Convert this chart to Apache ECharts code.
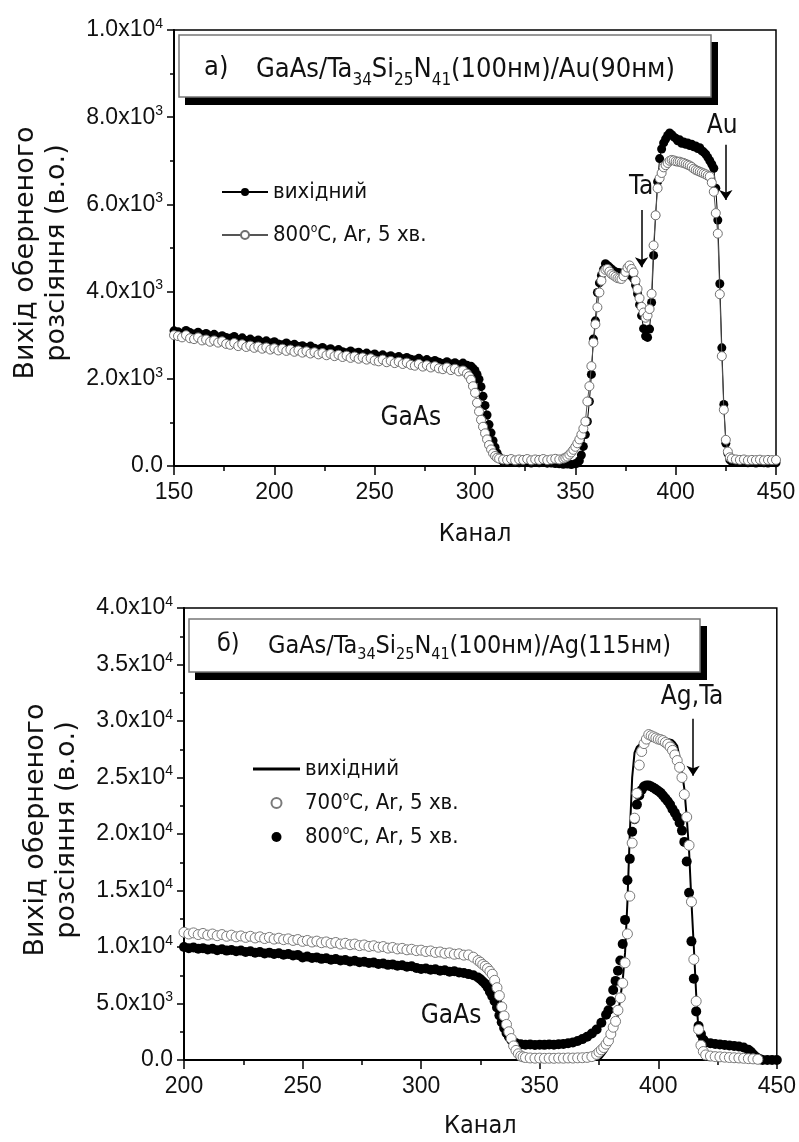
<!DOCTYPE html>
<html>
<head>
<meta charset="utf-8">
<script src="https://cdn.jsdelivr.net/npm/echarts@6/dist/echarts.min.js"></script>
<style>
  html, body { margin: 0; padding: 0; background: #fff; }
  #chart { width: 799px; height: 1142px; }
</style>
</head>
<body>
<div id="chart"></div>
<script>
// ---- data ----
// a) GaAs/Ta34Si25N41/Au : [channel, counts]
var topOrig = [
  [150,3100],[152,3080],[154,3040],[156,3110],[158,3060],[160,3030],[162,3070],[164,3010],[166,3040],[168,2990],
  [170,3020],[172,2960],[174,2990],[176,2950],[178,2930],[180,2970],[182,2900],[184,2940],[186,2880],[188,2910],
  [190,2860],[192,2890],[194,2840],[196,2870],[198,2820],[200,2850],[202,2800],[204,2780],[206,2820],[208,2770],
  [210,2790],[212,2740],[214,2760],[216,2720],[218,2750],[220,2700],[222,2680],[224,2720],[226,2660],[228,2690],
  [230,2640],[232,2670],[234,2620],[236,2600],[238,2640],[240,2590],[242,2610],[244,2560],[246,2590],[248,2540],
  [250,2570],[252,2520],[254,2550],[256,2500],[258,2530],[260,2480],[262,2510],[264,2460],[266,2490],[268,2450],
  [270,2430],[272,2470],[274,2410],[276,2440],[278,2390],[280,2420],[282,2380],[284,2350],[286,2390],[288,2340],
  [290,2370],[292,2320],[294,2360],[296,2310],[298,2290],[299,2240],[300,2190],[301,2100],[302,1990],[303,1820],
  [304,1600],[305,1390],[306,1170],[307,950],[308,760],[309,580],[310,430],[311,300],[312,210],[313,150],
  [314,110],[316,90],[318,80],[320,95],[322,75],[324,85],[326,90],[328,70],[330,85],[332,75],
  [334,80],[336,65],[338,70],[340,55],[342,50],[344,40],[346,45],[348,35],[350,50],[351,70],
  [352,120],[353,250],[354,450],[355,720],[356,1020],[357,1480],[358,2100],[359,2910],[360,3330],[361,3980],
  [362,4200],[363,4370],[364,4500],[365,4640],[366,4600],[367,4560],[368,4520],[369,4480],[370,4450],[371,4440],
  [372,4430],[373,4420],[374,4410],[375,4400],[376,4390],[377,4380],[378,4370],[379,4300],[380,4150],[381,3950],
  [382,3700],[383,3450],[384,3150],[385,2980],[386,2950],[387,3140],[388,3750],[389,4830],[390,5750],[391,6520],
  [392,7050],[393,7270],[394,7410],[395,7500],[396,7580],[397,7640],[398,7600],[399,7550],[400,7520],[401,7460],
  [402,7480],[403,7400],[404,7430],[405,7380],[406,7410],[407,7350],[408,7380],[409,7320],[410,7340],[411,7280],
  [412,7300],[413,7230],[414,7200],[415,7150],[416,7080],[417,7000],[418,6920],[419,6830],[420,6370],[421,5640],
  [422,4180],[423,2710],[424,1410],[425,520],[426,290],[427,140],[428,100],[430,90],[432,80],[434,85],
  [436,75],[438,80],[440,70],[442,80],[444,75],[446,70],[448,80],[450,75]
];
var top800 = [
  [150,3000],[152,2980],[154,2950],[156,3000],[158,2930],[160,2910],[162,2950],[164,2880],[166,2900],[168,2850],
  [170,2880],[172,2830],[174,2860],[176,2800],[178,2780],[180,2820],[182,2750],[184,2790],[186,2730],[188,2760],
  [190,2710],[192,2740],[194,2690],[196,2720],[198,2670],[200,2700],[202,2650],[204,2690],[206,2640],[208,2670],
  [210,2620],[212,2650],[214,2600],[216,2630],[218,2580],[220,2610],[222,2560],[224,2590],[226,2540],[228,2570],
  [230,2520],[232,2550],[234,2500],[236,2530],[238,2480],[240,2510],[242,2460],[244,2490],[246,2440],[248,2470],
  [250,2420],[252,2400],[254,2440],[256,2380],[258,2410],[260,2360],[262,2390],[264,2340],[266,2370],[268,2320],
  [270,2300],[272,2340],[274,2280],[276,2310],[278,2260],[280,2290],[282,2240],[284,2220],[286,2260],[288,2200],
  [290,2230],[292,2170],[294,2190],[296,2120],[297,2060],[298,1980],[299,1830],[300,1680],[301,1450],[302,1250],
  [303,1060],[304,900],[305,750],[306,610],[307,480],[308,380],[309,290],[310,230],[311,190],[312,170],
  [314,150],[316,140],[318,160],[320,130],[322,150],[324,140],[326,160],[328,130],[330,150],[332,140],
  [334,160],[336,135],[338,150],[340,165],[342,150],[344,170],[345,190],[346,215],[347,260],[348,310],
  [349,370],[350,440],[351,520],[352,610],[353,720],[354,860],[355,1020],[356,1480],[357,1830],[358,2290],
  [359,2830],[360,3250],[361,3640],[362,3980],[363,4250],[364,4440],[365,4500],[366,4520],[367,4460],[368,4400],
  [369,4370],[370,4340],[371,4310],[372,4300],[373,4290],[374,4350],[375,4450],[376,4550],[377,4600],[378,4520],
  [379,4440],[380,4250],[381,4060],[382,3850],[383,3650],[384,3520],[385,3400],[386,3450],[387,3600],[388,3950],
  [389,5060],[390,5750],[391,6370],[392,6600],[393,6720],[394,6850],[395,6900],[396,6950],[397,7000],[398,7020],
  [399,7010],[400,6990],[401,6980],[402,6980],[403,6960],[404,6950],[405,6930],[406,6910],[407,6890],[408,6860],
  [409,6820],[410,6790],[411,6770],[412,6750],[413,6730],[414,6710],[415,6690],[416,6660],[417,6640],[418,6500],
  [419,6290],[420,5800],[421,5330],[422,3940],[423,2520],[424,1290],[425,600],[426,330],[427,200],[428,170],
  [430,150],[432,140],[434,150],[436,130],[438,140],[440,135],[442,145],[444,130],[446,140],[448,135],[450,140]
];

// б) GaAs/Ta34Si25N41/Ag : [channel, counts]
var botOrig = [
  [200,11100],[205,11000],[210,10950],[215,10900],[220,10850],[225,10750],[230,10700],[235,10650],[240,10600],
  [245,10500],[250,10400],[255,10350],[260,10300],[265,10200],[270,10150],[275,10050],[280,10000],[285,9900],
  [290,9850],[295,9750],[300,9650],[305,9550],[310,9450],[315,9350],[320,9250],[323,9050],[325,8700],[327,8200],
  [329,7600],[331,6800],[333,5700],[335,4200],[337,2600],[339,1300],[341,500],[343,150],[345,50],[350,20],
  [360,10],[370,10],[375,10],[376,200],[377,450],[378,740],[379,1100],[380,1600],[381,2230],[382,3000],
  [383,4020],[384,5500],[385,7000],[386,9500],[387,14000],[388,20000],[389,25000],[390,27200],[391,27700],
  [392,27900],[394,28100],[396,28200],[398,28300],[400,28400],[402,28400],[404,28400],[406,28300],[407,28100],
  [408,27800],[409,26800],[410,25500],[411,24000],[412,21500],[413,18500],[414,14000],[415,10000],[416,5800],
  [417,2500],[418,900],[419,300],[420,100],[421,0],[430,0],[440,0],[450,0]
];
var bot700 = [
  [200,11300],[202,11150],[204,11250],[206,11100],[208,11200],[210,11050],[212,11150],[214,11000],[216,11100],
  [218,10950],[220,11050],[222,10900],[224,10980],[226,10850],[228,10950],[230,10800],[232,10900],[234,10750],
  [236,10850],[238,10700],[240,10780],[242,10650],[244,10720],[246,10580],[248,10660],[250,10500],[252,10580],
  [254,10440],[256,10520],[258,10380],[260,10450],[262,10320],[264,10400],[266,10260],[268,10330],[270,10200],
  [272,10260],[274,10120],[276,10180],[278,10050],[280,10110],[282,9980],[284,10040],[286,9900],[288,9960],
  [290,9830],[292,9880],[294,9750],[296,9800],[298,9680],[300,9720],[302,9600],[304,9650],[306,9520],[308,9560],
  [310,9440],[312,9480],[314,9360],[316,9400],[318,9280],[320,9300],[322,9100],[324,8800],[325,8650],[326,8450],
  [327,8300],[328,8100],[329,7850],[330,7590],[331,7050],[332,6400],[333,5700],[334,4700],[335,3900],[336,3150],
  [337,2500],[338,1900],[339,1250],[340,850],[341,550],[342,350],[343,280],[344,220],[346,180],[348,160],
  [350,170],[352,150],[354,160],[356,150],[358,170],[360,160],[362,180],[364,170],[366,190],[368,200],
  [370,230],[372,300],[374,500],[375,700],[376,900],[377,1100],[378,1400],[379,1700],[380,2300],[381,2900],
  [382,3420],[383,4400],[384,5500],[385,6800],[386,8600],[387,11160],[388,14500],[389,19200],[390,21400],
  [391,23600],[392,26100],[393,27300],[394,28000],[395,28400],[396,28800],[397,28700],[398,28600],[399,28500],
  [400,28400],[401,28350],[402,28270],[403,28100],[404,27950],[405,27700],[406,27400],[407,27000],[408,26500],
  [409,25900],[410,25000],[411,23500],[412,21500],[413,19000],[414,14000],[415,8900],[416,5200],[417,2700],
  [418,1300],[419,750],[420,450],[422,350],[424,300],[426,280],[428,250],[430,220],[432,200],[434,180],
  [436,150],[438,120],[440,100],[442,60]
];
var bot800 = [
  [200,10000],[202,9900],[204,9950],[206,9850],[208,9900],[210,9780],[212,9850],[214,9720],[216,9800],
  [218,9680],[220,9740],[222,9620],[224,9680],[226,9560],[228,9620],[230,9500],[232,9560],[234,9430],
  [236,9500],[238,9380],[240,9440],[242,9320],[244,9380],[246,9250],[248,9300],[250,9080],[252,9150],
  [254,9020],[256,9080],[258,8950],[260,9000],[262,8880],[264,8930],[266,8800],[268,8850],[270,8720],
  [272,8780],[274,8650],[276,8700],[278,8580],[280,8620],[282,8500],[284,8540],[286,8420],[288,8460],
  [290,8340],[292,8380],[294,8250],[296,8290],[298,8150],[300,8050],[302,8100],[304,7980],[306,8020],
  [308,7900],[310,7940],[312,7820],[314,7860],[316,7740],[318,7700],[320,7600],[322,7500],[324,7300],
  [325,7140],[326,6950],[327,6750],[328,6450],[329,6050],[330,5650],[331,5200],[332,4650],[333,3950],
  [334,3350],[335,2830],[336,2400],[337,2050],[338,1780],[339,1600],[340,1490],[342,1400],[344,1350],
  [346,1370],[348,1330],[350,1360],[352,1340],[354,1380],[356,1350],[358,1400],[360,1420],[362,1480],
  [364,1550],[366,1680],[368,1850],[370,2050],[372,2350],[374,2700],[376,3300],[378,4000],[379,4400],
  [380,5200],[381,6200],[382,7000],[383,7900],[384,8800],[385,10270],[386,12400],[387,15900],[388,17800],
  [389,20200],[390,21300],[391,22600],[392,23400],[393,23900],[394,24200],[395,24300],[396,24300],[397,24200],
  [398,24100],[399,23950],[400,23800],[401,23650],[402,23400],[403,23150],[404,22900],[405,22600],[406,22200],
  [407,21870],[408,21500],[409,21000],[410,20300],[411,19300],[412,17560],[413,14800],[414,10500],[415,7200],
  [416,4300],[417,3000],[418,2300],[419,1800],[420,1550],[422,1480],[424,1420],[426,1380],[428,1330],
  [430,1280],[432,1250],[434,1200],[436,1100],[438,900],[439,740],[440,500],[441,300],[442,150],[443,60],
  [444,0],[446,0],[448,0],[450,0]
];

// annotations in data coordinates: [text, channel, counts]
var topNotes = [['GaAs', 268, 1100], ['Ta', 382.8, 6400], ['Au', 423.2, 7800]];
var topArrows = [[383, 5870, 4560], [425, 7370, 6100]];
var botNotes = [['GaAs', 312.6, 3890], ['Ag,Ta', 414.3, 32100]];
var botArrows = [[414.7, 30200, 25150]];

var legendText = {
  a0: 'вихідний',
  a1: '800{sup|o}C, Ar, 5 хв.',
  b0: 'вихідний',
  b1: '700{sup|o}C, Ar, 5 хв.',
  b2: '800{sup|o}C, Ar, 5 хв.'
};

var FONT_C = '"DejaVu Sans Condensed", "DejaVu Sans", sans-serif';
var FONT_T = '"Liberation Sans", Arial, sans-serif';

var chartDom = document.getElementById('chart');
var myChart = echarts.init(chartDom);

function sciLabel(v) {
  if (v === 0) return '{m|0.0}';
  var e = Math.floor(Math.log10(v) + 1e-9);
  var m = (v / Math.pow(10, e)).toFixed(1);
  return '{m|' + m + 'x10}{e|' + e + '}';
}

function makeX(idx, min, max, top) {
  return {
    type: 'value', gridIndex: idx, min: min, max: max, interval: 50,
    name: 'Канал', nameLocation: 'middle', nameGap: top ? 56 : 54,
    nameTextStyle: { fontFamily: FONT_C, fontSize: 25, color: '#111' },
    axisLine: { onZero: false, lineStyle: { color: '#000', width: 2 } },
    axisTick: { length: 9, lineStyle: { color: '#000', width: 1.5 } },
    minorTick: { show: true, splitNumber: 2, length: 5, lineStyle: { color: '#000', width: 1.5 } },
    splitLine: { show: false },
    axisLabel: { margin: 15, fontFamily: FONT_T, fontSize: 23, color: '#111' }
  };
}

function makeY(idx, max, interval) {
  return {
    type: 'value', gridIndex: idx, min: 0, max: max, interval: interval,
    axisLine: { onZero: false, lineStyle: { color: '#000', width: 2 } },
    axisTick: { length: 7, lineStyle: { color: '#000', width: 1.5 } },
    minorTick: { show: true, splitNumber: 2, length: 4, lineStyle: { color: '#000', width: 1.5 } },
    splitLine: { show: false },
    axisLabel: {
      margin: 11,
      formatter: sciLabel,
      rich: {
        m: { fontFamily: FONT_T, fontSize: 23, color: '#111', lineHeight: 26 },
        e: { fontFamily: FONT_T, fontSize: 14, color: '#111', lineHeight: 15, verticalAlign: 'top' }
      }
    }
  };
}

function notePoints(list) {
  return {
    silent: true, symbol: 'circle', symbolSize: 1,
    itemStyle: { color: 'rgba(0,0,0,0)' },
    data: list.map(function (n) {
      return {
        name: n[0], coord: [n[1], n[2]],
        label: { show: true, position: 'inside', formatter: n[0], fontFamily: FONT_C, fontSize: 26, color: '#111' }
      };
    })
  };
}

function arrowLines(list) {
  return {
    silent: true, symbol: ['none', 'arrow'], symbolSize: 10,
    label: { show: false },
    lineStyle: { color: '#000', width: 1.5, type: 'solid' },
    data: list.map(function (a) {
      return [{ coord: [a[0], a[1]] }, { coord: [a[0], a[2]] }];
    })
  };
}

var legendRich = { sup: { fontFamily: FONT_C, fontSize: 12, verticalAlign: 'top', lineHeight: 12, color: '#111' } };

option = {
  animation: false,
  backgroundColor: '#fff',
  grid: [
    { left: 174, top: 30, width: 602, height: 436, show: true, borderColor: '#000', borderWidth: 1.5 },
    { left: 184, top: 608, width: 595, height: 452, show: true, borderColor: '#000', borderWidth: 1.5 }
  ],
  xAxis: [makeX(0, 150, 450, true), makeX(1, 200, 450, false)],
  yAxis: [makeY(0, 10000, 2000), makeY(1, 40000, 5000)],
  legend: [
    {
      data: ['a0', 'a1'], orient: 'vertical', left: 216, top: 175,
      itemWidth: 46, itemHeight: 10, itemGap: 19, selectedMode: false,
      formatter: function (n) { return legendText[n]; },
      textStyle: { fontFamily: FONT_C, fontSize: 22, color: '#111', lineHeight: 24, rich: legendRich }
    },
    {
      data: [
        { name: 'b0', icon: 'path://M0,0 L47,0 L47,3 L0,3 Z', itemStyle: { color: '#000' } },
        'b1', 'b2'
      ],
      orient: 'vertical', left: 248, top: 752,
      itemWidth: 47, itemHeight: 10, itemGap: 10, selectedMode: false,
      formatter: function (n) { return legendText[n]; },
      textStyle: { fontFamily: FONT_C, fontSize: 22, color: '#111', lineHeight: 24, rich: legendRich }
    }
  ],
  series: [
    {
      name: 'a0', type: 'line', xAxisIndex: 0, yAxisIndex: 0, data: topOrig, z: 2,
      symbol: 'circle', symbolSize: 9, showAllSymbol: true,
      lineStyle: { color: '#000', width: 1 },
      itemStyle: { color: '#000' },
      markPoint: notePoints(topNotes),
      markLine: arrowLines(topArrows)
    },
    {
      name: 'a1', type: 'line', xAxisIndex: 0, yAxisIndex: 0, data: top800, z: 3,
      symbol: 'circle', symbolSize: 9, showAllSymbol: true,
      lineStyle: { color: '#555', width: 1 },
      itemStyle: { color: '#fff', borderColor: '#707070', borderWidth: 1 }
    },
    {
      name: 'b0', type: 'line', xAxisIndex: 1, yAxisIndex: 1, data: botOrig, z: 2,
      symbol: 'none', lineStyle: { color: '#000', width: 2 },
      itemStyle: { color: '#000' },
      markPoint: notePoints(botNotes),
      markLine: arrowLines(botArrows)
    },
    {
      name: 'b2', type: 'scatter', xAxisIndex: 1, yAxisIndex: 1, data: bot800, z: 3,
      symbol: 'circle', symbolSize: 10,
      itemStyle: { color: '#000', opacity: 1 }
    },
    {
      name: 'b1', type: 'scatter', xAxisIndex: 1, yAxisIndex: 1, data: bot700, z: 4,
      symbol: 'circle', symbolSize: 10,
      itemStyle: { color: '#fff', borderColor: '#7a7a7a', borderWidth: 1, opacity: 1 }
    }
  ],
  graphic: [
    // title box a)
    { type: 'rect', shape: { x: 185, y: 42, width: 533, height: 63 }, style: { fill: '#000' }, z: 10 },
    { type: 'rect', shape: { x: 179, y: 35, width: 532, height: 62 }, style: { fill: '#fff', stroke: '#777', lineWidth: 1.5 }, z: 11 },
    { type: 'text', x: 204, y: 68, z: 12, style: { text: 'а)', font: '27px ' + FONT_C, fill: '#111', verticalAlign: 'middle' } },
    {
      type: 'text', x: 256, y: 70, z: 12,
      style: {
        text: '{m|GaAs/Ta}{s|34}{m|Si}{s|25}{m|N}{s|41}{m|(100нм)/Au(90нм)}',
        verticalAlign: 'middle',
        rich: {
          m: { font: '27px ' + FONT_C, fill: '#111', lineHeight: 38 },
          s: { font: '17px ' + FONT_C, fill: '#111', lineHeight: 22, verticalAlign: 'bottom' }
        }
      }
    },
    // title box б)
    { type: 'rect', shape: { x: 195, y: 626, width: 512, height: 54 }, style: { fill: '#000' }, z: 10 },
    { type: 'rect', shape: { x: 189, y: 619, width: 511, height: 53 }, style: { fill: '#fff', stroke: '#777', lineWidth: 1.5 }, z: 11 },
    { type: 'text', x: 217, y: 644, z: 12, style: { text: 'б)', font: '25px ' + FONT_C, fill: '#111', verticalAlign: 'middle' } },
    {
      type: 'text', x: 268, y: 646, z: 12,
      style: {
        text: '{m|GaAs/Ta}{s|34}{m|Si}{s|25}{m|N}{s|41}{m|(100нм)/Ag(115нм)}',
        verticalAlign: 'middle',
        rich: {
          m: { font: '25px ' + FONT_C, fill: '#111', lineHeight: 34 },
          s: { font: '16px ' + FONT_C, fill: '#111', lineHeight: 20, verticalAlign: 'bottom' }
        }
      }
    },
    // y axis titles
    {
      type: 'text', x: 41, y: 253, rotation: Math.PI / 2,
      style: { text: 'Вихід оберненого\nрозсіяння (в.о.)', font: '27px "DejaVu Sans", sans-serif', fill: '#111', align: 'center', verticalAlign: 'middle', lineHeight: 31 }
    },
    {
      type: 'text', x: 51, y: 830, rotation: Math.PI / 2,
      style: { text: 'Вихід оберненого\nрозсіяння (в.о.)', font: '27px "DejaVu Sans", sans-serif', fill: '#111', align: 'center', verticalAlign: 'middle', lineHeight: 31 }
    }
  ]
};

option && myChart.setOption(option);
</script>
</body>
</html>
